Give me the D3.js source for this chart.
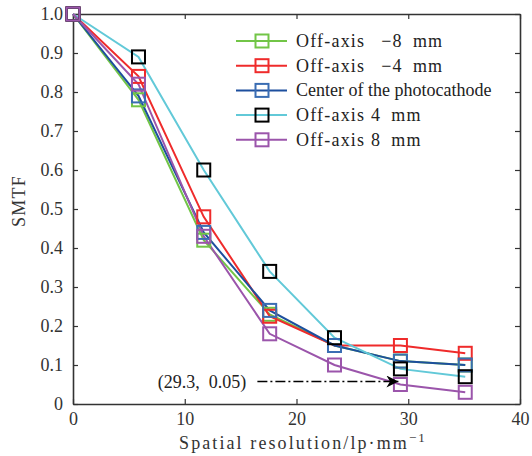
<!DOCTYPE html>
<html>
<head>
<meta charset="utf-8">
<script src="https://cdn.jsdelivr.net/npm/d3@7/dist/d3.min.js"></script>
<style>
  body { margin: 0; background: #fff; }
  svg { display: block; font-family: "Liberation Serif", serif; }
</style>
</head>
<body>
<svg id="chart" width="532" height="456"></svg>
<script>
// resolution values (lp/mm)
var resolution = [0, 5.86, 11.7, 17.6, 23.4, 29.3, 35.1];

var seriesNames = ["Off-axis \u2002\u22128\u2002mm", "Off-axis \u2002\u22124\u2002mm", "Center of the photocathode", "Off-axis 4\u2002mm", "Off-axis 8\u2002mm"];
var offMinus8 = [1.0, 0.78, 0.42, 0.23, 0.15, 0.11, 0.10];
var offMinus4 = [1.0, 0.84, 0.48, 0.225, 0.15, 0.15, 0.13];
var center    = [1.0, 0.79, 0.44, 0.24, 0.15, 0.11, 0.10];
var offPlus4  = [1.0, 0.89, 0.60, 0.34, 0.17, 0.09, 0.07];
var offPlus8  = [1.0, 0.82, 0.43, 0.18, 0.10, 0.05, 0.03];

var lineColors   = ["#72c547", "#ef2b2b", "#1d4f9e", "#62c9d8", "#9b55ab"];
var markerColors = ["#72c547", "#ef2b2b", "#3a6db3", "#000000", "#9b55ab"];

var xTicks = [0, 10, 20, 30, 40];
var yTicks = [0, 0.1, 0.2, 0.3, 0.4, 0.5, 0.6, 0.7, 0.8, 0.9, 1.0];

var values = [offMinus8, offMinus4, center, offPlus4, offPlus8];

var margin = { left: 73, right: 12, top: 14, bottom: 52 },
    width = 532 - margin.left - margin.right,
    height = 456 - margin.top - margin.bottom;

var svg = d3.select("#chart");
var g = svg.append("g").attr("transform", "translate(" + margin.left + "," + margin.top + ")");

var x = d3.scaleLinear().domain([0, 40]).range([0, width]);
var y = d3.scaleLinear().domain([0, 1]).range([height, 0]);

// axes, ticks pointing inward on all four sides
var axisColor = "#333";
g.append("g").attr("transform", "translate(0," + height + ")")
  .call(d3.axisBottom(x).tickValues(xTicks).tickSizeInner(-5).tickSizeOuter(0).tickPadding(8).tickFormat(d3.format("d")));
g.append("g")
  .call(d3.axisLeft(y).tickValues(yTicks).tickSizeInner(-5).tickSizeOuter(0).tickPadding(10)
    .tickFormat(function(d) { return d === 0 ? "0" : d3.format(".1f")(d); }));
g.append("g")
  .call(d3.axisTop(x).tickValues(xTicks).tickSizeInner(-5).tickSizeOuter(0).tickFormat(""));
g.append("g").attr("transform", "translate(" + width + ",0)")
  .call(d3.axisRight(y).tickValues(yTicks).tickSizeInner(-5).tickSizeOuter(0).tickFormat(""));

g.selectAll(".domain").attr("stroke", axisColor).attr("stroke-width", 1.6);
g.selectAll(".tick line").attr("stroke", axisColor).attr("stroke-width", 1.2);
g.selectAll(".tick text").attr("fill", "#333").style("font-size", "18px").style("font-family", "Liberation Serif, serif");

var line = d3.line()
  .x(function(d, i) { return x(resolution[i]); })
  .y(function(d) { return y(d); });

var ms = 13;
values.forEach(function(vals, k) {
  g.append("path").datum(vals)
    .attr("fill", "none")
    .attr("stroke", lineColors[k])
    .attr("stroke-width", 2)
    .attr("d", line);
});
values.forEach(function(vals, k) {
  g.selectAll(".m" + k).data(vals).enter().append("rect")
    .attr("x", function(d, i) { return x(resolution[i]) - ms / 2; })
    .attr("y", function(d) { return y(d) - ms / 2; })
    .attr("width", ms).attr("height", ms)
    .attr("fill", "none")
    .attr("stroke", markerColors[k])
    .attr("stroke-width", 2);
});

// annotation
var annX = 29.3, annY = 0.05;
svg.append("defs").append("marker")
  .attr("id", "arrow").attr("viewBox", "0 0 10 10")
  .attr("refX", 10).attr("refY", 5)
  .attr("markerWidth", 18).attr("markerHeight", 12)
  .attr("markerUnits", "userSpaceOnUse")
  .attr("orient", "auto")
  .append("path").attr("d", "M0,0 L10,5 L0,10 L3,5 Z").attr("fill", "#000");
g.append("line")
  .attr("x1", x(16.5)).attr("x2", x(annX) - 2)
  .attr("y1", y(annY) - 3).attr("y2", y(annY) - 3)
  .attr("stroke", "#000").attr("stroke-width", 1.5)
  .attr("stroke-dasharray", "10,3,2,3")
  .attr("marker-end", "url(#arrow)");
g.append("text")
  .attr("x", x(15.5)).attr("y", y(annY) + 3)
  .attr("text-anchor", "end")
  .style("font-size", "18px").attr("fill", "#222")
  .text("(" + annX + ",\u2002" + annY.toFixed(2) + ")");

// legend
var legend = g.append("g").attr("transform", "translate(" + (236 - margin.left) + "," + (41 - margin.top) + ")");
seriesNames.forEach(function(name, k) {
  var row = legend.append("g").attr("transform", "translate(0," + (k * 24.7) + ")");
  row.append("line").attr("x1", 0).attr("x2", 51).attr("y1", 0).attr("y2", 0)
    .attr("stroke", lineColors[k]).attr("stroke-width", 2);
  row.append("rect").attr("x", 26 - ms / 2).attr("y", -ms / 2).attr("width", ms).attr("height", ms)
    .attr("fill", "none").attr("stroke", markerColors[k]).attr("stroke-width", 2);
  row.append("text").attr("x", 60).attr("y", 6)
    .style("font-size", "18px").attr("fill", "#222")
    .style("letter-spacing", k === 2 ? "0px" : "1.2px")
    .text(name);
});

// axis labels
svg.append("text")
  .attr("x", 303).attr("y", 449)
  .attr("text-anchor", "middle").style("font-size", "18px").attr("fill", "#333")
  .style("letter-spacing", "2.1px")
  .html("Spatial resolution/lp\u00b7mm<tspan dy='-7' font-size='13'>\u22121</tspan>");
svg.append("text")
  .attr("transform", "translate(25,201) rotate(-90)")
  .attr("text-anchor", "middle").style("font-size", "18px").attr("fill", "#333")
  .style("letter-spacing", "1.2px")
  .text("SMTF");
</script>
</body>
</html>
